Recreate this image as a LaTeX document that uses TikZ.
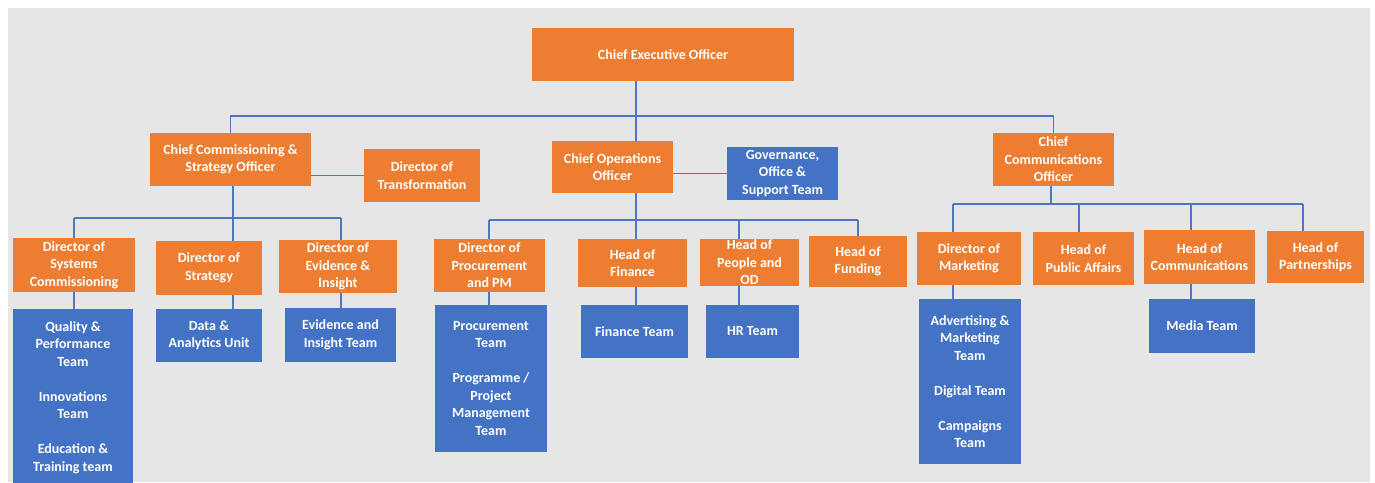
\documentclass[tikz,border=0pt]{standalone}
\usepackage{fontspec}
\setmainfont{Carlito}
\definecolor{orgorange}{HTML}{ED7D31}
\definecolor{orgblue}{HTML}{4472C4}
\definecolor{linkblue}{HTML}{4E78C6}
\definecolor{pagegray}{HTML}{E7E6E6}
\begin{document}
\begin{tikzpicture}[x=1pt,y=-1pt,
  unitbox/.style={rectangle, inner sep=0pt, outer sep=0pt},
  obox/.style={unitbox, fill=orgorange},
  bbox/.style={unitbox, fill=orgblue},
  txt/.style={text=white, align=center, inner sep=0pt,
    font=\fontsize{14}{17.5}\selectfont\bfseries},
  conn/.style={draw=linkblue, line width=1.6pt}]
\useasboundingbox (0,0) rectangle (1375,482);
\fill[white] (0,0) rectangle (1375,482);
\fill[pagegray] (8,8) rectangle (1370,482);

% top level
\node[obox, minimum width=262pt, minimum height=53pt,
  label={[txt]center:{Chief Executive Officer}}] (ceo) at (663,54.5) {};

% second level
\node[obox, minimum width=161pt, minimum height=53pt,
  label={[txt]center:{Chief Commissioning \&\\Strategy Officer}}] (ccso) at (230.5,159.5) {};
\node[obox, minimum width=116pt, minimum height=53pt,
  label={[txt]center:{Director of\\Transformation}}] (dot) at (422,175.5) {};
\node[obox, minimum width=121pt, minimum height=52pt,
  label={[txt]center:{Chief Operations\\Officer}}] (coo) at (612.5,167) {};
\node[bbox, minimum width=111pt, minimum height=53pt,
  label={[txt]center:{Governance,\\Office \&\\Support Team}}] (gov) at (782.5,173.5) {};
\node[obox, minimum width=121pt, minimum height=53pt,
  label={[txt]center:{Chief\\Communications\\Officer}}] (cco) at (1053.5,159.5) {};

% commissioning & strategy branch
\node[obox, minimum width=122pt, minimum height=54pt,
  label={[txt]center:{Director of\\Systems\\Commissioning}}] (dsc) at (74,265) {};
\node[obox, minimum width=106pt, minimum height=54pt,
  label={[txt]center:{Director of\\Strategy}}] (dos) at (209,268) {};
\node[obox, minimum width=118pt, minimum height=53pt,
  label={[txt]center:{Director of\\Evidence \&\\Insight}}] (dei) at (338,266.5) {};
\node[bbox, minimum width=120pt, minimum height=177pt,
  label={[txt]center:{Quality \&\\Performance\\Team\\[17.5pt]Innovations\\Team\\[17.5pt]Education \&\\Training team}}] (qual) at (73,397.5) {};
\node[bbox, minimum width=106pt, minimum height=53pt,
  label={[txt]center:{Data \&\\Analytics Unit}}] (data) at (209,335.5) {};
\node[bbox, minimum width=111pt, minimum height=54pt,
  label={[txt]center:{Evidence and\\Insight Team}}] (eit) at (340.5,335) {};

% operations branch
\node[obox, minimum width=111pt, minimum height=53pt,
  label={[txt]center:{Director of\\Procurement\\and PM}}] (dpp) at (489.5,265.5) {};
\node[bbox, minimum width=112pt, minimum height=147pt,
  label={[txt]center:{Procurement\\Team\\[17.5pt]Programme /\\Project\\Management\\Team}}] (proc) at (491,378.5) {};
\node[obox, minimum width=109pt, minimum height=48pt,
  label={[txt]center:{Head of\\Finance}}] (hof) at (632.5,263) {};
\node[bbox, minimum width=107pt, minimum height=53pt,
  label={[txt]center:{Finance Team}}] (fin) at (634.5,331.5) {};
\node[obox, minimum width=99pt, minimum height=47pt,
  label={[txt]center:{Head of\\People and\\OD}}] (hpo) at (749.5,262.5) {};
\node[bbox, minimum width=93pt, minimum height=53pt,
  label={[txt]center:{HR Team}}] (hr) at (752.5,331.5) {};
\node[obox, minimum width=98pt, minimum height=51pt,
  label={[txt]center:{Head of\\Funding}}] (hfu) at (858,261.5) {};

% communications branch
\node[obox, minimum width=104pt, minimum height=53pt,
  label={[txt]center:{Director of\\Marketing}}] (dom) at (969,258.5) {};
\node[bbox, minimum width=102pt, minimum height=165pt,
  label={[txt]center:{Advertising \&\\Marketing\\Team\\[17.5pt]Digital Team\\[17.5pt]Campaigns\\Team}}] (adv) at (970,381.5) {};
\node[obox, minimum width=101pt, minimum height=53pt,
  label={[txt]center:{Head of\\Public Affairs}}] (hpa) at (1083.5,258.5) {};
\node[obox, minimum width=111pt, minimum height=54pt,
  label={[txt]center:{Head of\\Communications}}] (hoc) at (1199.5,257) {};
\node[bbox, minimum width=106pt, minimum height=54pt,
  label={[txt]center:{Media Team}}] (media) at (1202,326) {};
\node[obox, minimum width=97pt, minimum height=52pt,
  label={[txt]center:{Head of\\Partnerships}}] (hop) at (1315.5,257) {};

% junctions on the connector bars
\coordinate (t0) at (636,116);
\coordinate (s0) at (233,218);
\coordinate (s1) at (74,218);
\coordinate (s2) at (341,218);
\coordinate (o0) at (636,220);
\coordinate (o1) at (489,220);
\coordinate (o2) at (739,220);
\coordinate (o3) at (858,220);
\coordinate (m0) at (1051,204);
\coordinate (m1) at (953,204);
\coordinate (m2) at (1079,204);
\coordinate (m3) at (1191,204);
\coordinate (m4) at (1303,204);

% executive level
\draw[conn] (ceo.south -| t0) -- (coo.north -| t0);
\draw[conn] (ccso.north) |- (t0) -| (cco.north);
\draw[conn] (ccso.east |- dot.west) -- (dot.west);
\draw[conn] (coo.east |- gov.west) -- (gov.west);

% commissioning & strategy
\draw[conn] (ccso.south -| s0) -- (s0);
\draw[conn] (s1) -- (s2);
\draw[conn] (s1) -- (dsc.north -| s1);
\draw[conn] (s0) -- (dos.north -| s0);
\draw[conn] (s2) -- (dei.north -| s2);
\draw[conn] (dsc.south -| s1) -- (qual.north -| s1);
\draw[conn] (dos.south -| s0) -- (data.north -| s0);
\draw[conn] (dei.south -| s2) -- (eit.north -| s2);

% operations
\draw[conn] (coo.south -| o0) -- (o0);
\draw[conn] (o1) -- (o3);
\draw[conn] (o1) -- (dpp.north -| o1);
\draw[conn] (o0) -- (hof.north -| o0);
\draw[conn] (o2) -- (hpo.north -| o2);
\draw[conn] (o3) -- (hfu.north -| o3);
\draw[conn] (dpp.south -| o1) -- (proc.north -| o1);
\draw[conn] (hof.south -| o0) -- (fin.north -| o0);
\draw[conn] (hpo.south -| o2) -- (hr.north -| o2);

% communications
\draw[conn] (cco.south -| m0) -- (m0);
\draw[conn] (m1) -- (m4);
\draw[conn] (m1) -- (dom.north -| m1);
\draw[conn] (m2) -- (hpa.north -| m2);
\draw[conn] (m3) -- (hoc.north -| m3);
\draw[conn] (m4) -- (hop.north -| m4);
\draw[conn] (dom.south -| m1) -- (adv.north -| m1);
\draw[conn] (hoc.south -| m3) -- (media.north -| m3);
\end{tikzpicture}
\end{document}
